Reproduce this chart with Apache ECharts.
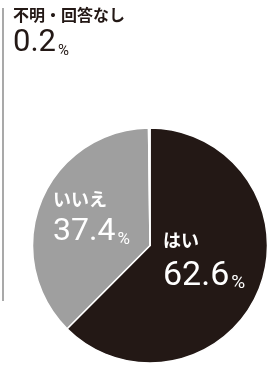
<!DOCTYPE html>
<html>
<head>
<meta charset="utf-8">
<script src="https://cdn.jsdelivr.net/npm/echarts@6/dist/echarts.min.js"></script>
<style>
  html, body { margin: 0; padding: 0; background: #fff; }
  #main { width: 272px; height: 365px; }
</style>
</head>
<body>
<div id="main"></div>
<script>
// 回答の内訳（時計回り、上から）
const answers = ['はい', 'いいえ', '不明・回答なし'];
const shares = [62.6, 37.4, 0.2];
const sliceColors = ['#231815', '#9f9f9f', '#ffffff'];

const JP = '"Noto Sans CJK JP", sans-serif';
const NUM = 'Roboto, "DejaVu Sans", sans-serif';

/**
 * ラベル（項目名 + 数値%）
 */
function makeLabel(idx, x, nameY, numY, color, nameSize, numSize, pctSize) {
  return [{
    type: 'text',
    x: x,
    y: nameY,
    z: 100,
    silent: true,
    style: {
      text: answers[idx],
      fill: color,
      font: 'bold ' + nameSize + 'px ' + JP,
      verticalAlign: 'top'
    }
  }, {
    type: 'text',
    x: x,
    y: numY,
    z: 100,
    silent: true,
    style: {
      text: '{v|' + shares[idx].toFixed(1) + '}{p|%}',
      fill: color,
      verticalAlign: 'top',
      rich: {
        v: { fontFamily: NUM, fontSize: numSize, lineHeight: numSize, fill: color },
        p: { fontFamily: NUM, fontSize: pctSize, lineHeight: numSize, fill: color, verticalAlign: 'bottom', padding: [0, 0, 0, 2] }
      }
    }
  }];
}

const chart = echarts.init(document.getElementById('main'), null, { renderer: 'canvas' });

const option = {
  animation: false,
  series: [{
    type: 'pie',
    center: [150, 245.5],
    radius: [0, 117.5],
    startAngle: 90,
    clockwise: true,
    silent: true,
    z: 2,
    label: { show: false },
    labelLine: { show: false },
    itemStyle: { borderColor: '#ffffff', borderWidth: 1.5 },
    data: answers.map((name, i) => ({
      name: name,
      value: shares[i],
      itemStyle: { color: sliceColors[i] }
    }))
  }],
  graphic: {
    elements: [
      {
        type: 'line',
        z: 100,
        silent: true,
        shape: { x1: 3, y1: 8, x2: 3, y2: 301 },
        style: { stroke: '#8c8c8c', lineWidth: 1.5 }
      }
    ].concat(
      makeLabel(2, 13, 7, 28, '#231815', 16, 31, 15),
      makeLabel(1, 53, 190, 216, '#ffffff', 18, 32, 17),
      makeLabel(0, 163, 231, 259, '#ffffff', 18, 34, 19)
    )
  }
};

chart.setOption(option);
</script>
</body>
</html>
